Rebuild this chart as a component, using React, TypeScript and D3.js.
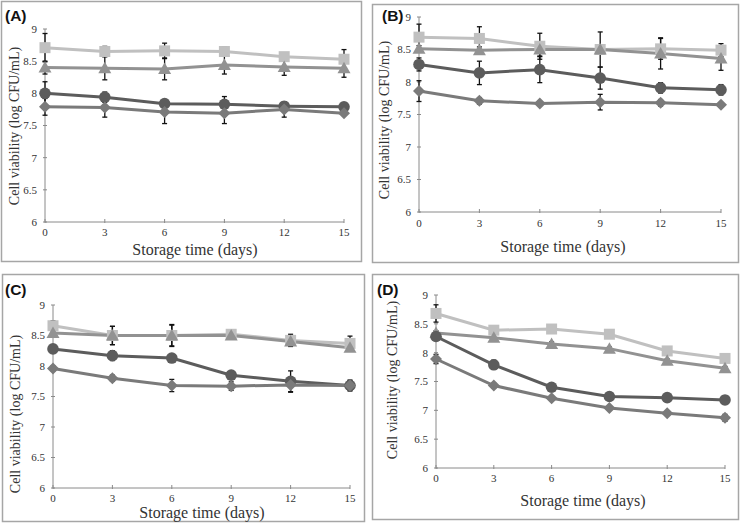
import React from "react";
import * as d3 from "d3";

const days = [0, 3, 6, 9, 12, 15];
const yTicks = [6, 6.5, 7, 7.5, 8, 8.5, 9];
const xTicks = [0, 3, 6, 9, 12, 15];
const panelNames = ["(A)", "(B)", "(C)", "(D)"];
const xTitle = "Storage time (days)";
const yTitle = "Cell viability (log CFU/mL)";

// Panel A
const aSquare = [8.71, 8.65, 8.66, 8.65, 8.57, 8.53];
const aSquareErr = [0.22, 0.08, 0.12, 0.07, 0.04, 0.15];
const aTriangle = [8.4, 8.39, 8.38, 8.44, 8.41, 8.39];
const aTriangleErr = [0.1, 0.18, 0.17, 0.14, 0.13, 0.14];
const aCircle = [8.0, 7.94, 7.84, 7.83, 7.8, 7.79];
const aCircleErr = [0.18, 0.08, 0.06, 0.12, 0.03, 0.03];
const aDiamond = [7.79, 7.78, 7.71, 7.69, 7.75, 7.69];
const aDiamondErr = [0.13, 0.15, 0.18, 0.16, 0.12, 0.03];

// Panel B
const bSquare = [8.69, 8.67, 8.55, 8.5, 8.51, 8.49];
const bSquareErr = [0.2, 0.18, 0.2, 0.05, 0.16, 0.1];
const bTriangle = [8.51, 8.49, 8.5, 8.5, 8.44, 8.36];
const bTriangleErr = [0.05, 0.05, 0.1, 0.27, 0.24, 0.18];
const bCircle = [8.27, 8.14, 8.19, 8.06, 7.91, 7.88];
const bCircleErr = [0.1, 0.18, 0.2, 0.17, 0.08, 0.08];
const bDiamond = [7.86, 7.71, 7.67, 7.69, 7.68, 7.65];
const bDiamondErr = [0.16, 0.05, 0.03, 0.12, 0.05, 0.03];

// Panel C
const cSquare = [8.66, 8.5, 8.5, 8.52, 8.42, 8.37];
const cSquareErr = [0.08, 0.15, 0.18, 0.04, 0.1, 0.12];
const cTriangle = [8.54, 8.5, 8.5, 8.5, 8.4, 8.3];
const cTriangleErr = [0.05, 0.15, 0.17, 0.05, 0.05, 0.05];
const cCircle = [8.28, 8.17, 8.13, 7.85, 7.75, 7.68];
const cCircleErr = [0.05, 0.08, 0.04, 0.04, 0.17, 0.09];
const cDiamond = [7.96, 7.8, 7.68, 7.67, 7.69, 7.68];
const cDiamondErr = [0.04, 0.05, 0.1, 0.07, 0.12, 0.08];

// Panel D
const dSquare = [8.68, 8.39, 8.41, 8.32, 8.03, 7.9];
const dSquareErr = [0.15, 0.04, 0.03, 0.03, 0.05, 0.03];
const dTriangle = [8.34, 8.26, 8.15, 8.07, 7.86, 7.73];
const dTriangleErr = [0.04, 0.06, 0.04, 0.03, 0.03, 0.03];
const dCircle = [8.28, 7.79, 7.4, 7.24, 7.22, 7.18];
const dCircleErr = [0.05, 0.08, 0.04, 0.03, 0.03, 0.03];
const dDiamond = [7.89, 7.43, 7.21, 7.04, 6.95, 6.87];
const dDiamondErr = [0.08, 0.04, 0.03, 0.03, 0.03, 0.06];

type Series = { values: number[]; err: number[]; shape: string };

const panelSeries: Series[][] = [
  [
    { values: aSquare, err: aSquareErr, shape: "square" },
    { values: aTriangle, err: aTriangleErr, shape: "triangle" },
    { values: aCircle, err: aCircleErr, shape: "circle" },
    { values: aDiamond, err: aDiamondErr, shape: "diamond" },
  ],
  [
    { values: bSquare, err: bSquareErr, shape: "square" },
    { values: bTriangle, err: bTriangleErr, shape: "triangle" },
    { values: bCircle, err: bCircleErr, shape: "circle" },
    { values: bDiamond, err: bDiamondErr, shape: "diamond" },
  ],
  [
    { values: cSquare, err: cSquareErr, shape: "square" },
    { values: cTriangle, err: cTriangleErr, shape: "triangle" },
    { values: cCircle, err: cCircleErr, shape: "circle" },
    { values: cDiamond, err: cDiamondErr, shape: "diamond" },
  ],
  [
    { values: dSquare, err: dSquareErr, shape: "square" },
    { values: dTriangle, err: dTriangleErr, shape: "triangle" },
    { values: dCircle, err: dCircleErr, shape: "circle" },
    { values: dDiamond, err: dDiamondErr, shape: "diamond" },
  ],
];

// layout per panel
const layouts = [
  { box: [1, 1, 361, 261], axX: 45, x15: 344, y9: 29, y6: 222, label: [5, 21], yt: [14, 126], xtY: 236, xt: [195, 255] },
  { box: [372, 4, 738, 262], axX: 419, x15: 721, y9: 17, y6: 212, label: [382, 21], yt: [384, 120], xtY: 227, xt: [563, 252] },
  { box: [2, 274, 364, 521], axX: 53, x15: 350, y9: 305, y6: 488, label: [5, 295], yt: [15, 414], xtY: 502, xt: [202, 518] },
  { box: [372, 274, 738, 519], axX: 436, x15: 725, y9: 295, y6: 468, label: [377, 295], yt: [392, 380], xtY: 482, xt: [583, 506] },
];

const colors: Record<string, string> = {
  square: "#c0c0c0",
  triangle: "#929292",
  circle: "#5c5c5c",
  diamond: "#7a7a7a",
};

const serif = '"Liberation Serif", "DejaVu Serif", "Times New Roman", Times, serif';
const sans = '"Liberation Sans", Arial, Helvetica, sans-serif';

function Marker({ shape, x, y }: { shape: string; x: number; y: number }) {
  const c = colors[shape];
  if (shape === "square") return <rect x={x - 5.5} y={y - 5.5} width={11} height={11} fill={c} />;
  if (shape === "circle") return <circle cx={x} cy={y} r={5.8} fill={c} />;
  if (shape === "triangle")
    return <path d={`M${x},${y - 6.5}L${x + 6.5},${y + 5}L${x - 6.5},${y + 5}Z`} fill={c} />;
  return <path d={`M${x},${y - 6}L${x + 6},${y}L${x},${y + 6}L${x - 6},${y}Z`} fill={c} />;
}

function Panel({ idx }: { idx: number }) {
  const L = layouts[idx];
  const series = panelSeries[idx];
  const x = d3.scaleLinear().domain([0, 15]).range([L.axX, L.x15]);
  const y = d3.scaleLinear().domain([6, 9]).range([L.y6, L.y9]);
  const line = d3
    .line<number>()
    .x((_, i) => x(days[i]))
    .y((v) => y(v));
  const [bx0, by0, bx1, by1] = L.box;
  return (
    <g>
      <rect x={bx0 + 0.5} y={by0 + 0.5} width={bx1 - bx0} height={by1 - by0} fill="white" stroke="#a6a6a6" strokeWidth={1.5} />
      <text x={L.label[0]} y={L.label[1]} style={{ fontFamily: sans }} fontWeight="bold" fontSize={15.5} fill="#111">
        {panelNames[idx]}
      </text>
      {/* axes */}
      <line x1={L.axX} x2={L.axX} y1={y(9)} y2={y(6)} stroke="#8a8a8a" strokeWidth={1} />
      <line x1={L.axX} x2={L.x15} y1={y(6)} y2={y(6)} stroke="#8a8a8a" strokeWidth={1} />
      {yTicks.map((t) => (
        <g key={"y" + t}>
          <line x1={L.axX - 2} x2={L.axX + 2} y1={y(t)} y2={y(t)} stroke="#8a8a8a" />
          <text x={L.axX - 8} y={y(t)} dy="0.35em" textAnchor="end" style={{ fontFamily: serif }} fontSize={11} fill="#333">
            {String(t)}
          </text>
        </g>
      ))}
      {xTicks.map((t) => (
        <g key={"x" + t}>
          <line x1={x(t)} x2={x(t)} y1={y(6) - 3} y2={y(6) + 1} stroke="#8a8a8a" />
          <text x={x(t)} y={L.xtY} textAnchor="middle" style={{ fontFamily: serif }} fontSize={11} fill="#333">
            {String(t)}
          </text>
        </g>
      ))}
      <text
        transform={`translate(${L.yt[0]},${L.yt[1]}) rotate(-90)`}
        textAnchor="middle"
        dy="0.35em"
        style={{ fontFamily: serif }}
        fontSize={14}
        fill="#333"
      >
        {yTitle}
      </text>
      <text x={L.xt[0]} y={L.xt[1]} textAnchor="middle" style={{ fontFamily: serif }} fontSize={16} fill="#333">
        {xTitle}
      </text>
      {/* lines */}
      {series.map((s) => (
        <path key={"l" + s.shape} d={line(s.values) || ""} fill="none" stroke={colors[s.shape]} strokeWidth={3} />
      ))}
      {/* error bars */}
      {series.map((s) =>
        s.values.map((v, i) => (
          <g key={"e" + s.shape + i} stroke="#111" strokeWidth={1.3}>
            <line x1={x(days[i])} x2={x(days[i])} y1={y(v - s.err[i])} y2={y(v + s.err[i])} />
            <line x1={x(days[i]) - 2.5} x2={x(days[i]) + 2.5} y1={y(v + s.err[i])} y2={y(v + s.err[i])} />
            <line x1={x(days[i]) - 2.5} x2={x(days[i]) + 2.5} y1={y(v - s.err[i])} y2={y(v - s.err[i])} />
          </g>
        ))
      )}
      {/* markers */}
      {series.map((s) =>
        s.values.map((v, i) => <Marker key={"m" + s.shape + i} shape={s.shape} x={x(days[i])} y={y(v)} />)
      )}
    </g>
  );
}

export default function App() {
  return (
    <svg width={740} height={523} style={{ position: "absolute", left: 0, top: 0, background: "white" }}>
      <rect x={0} y={0} width={740} height={523} fill="white" />
      {[0, 1, 2, 3].map((i) => (
        <Panel key={i} idx={i} />
      ))}
    </svg>
  );
}
